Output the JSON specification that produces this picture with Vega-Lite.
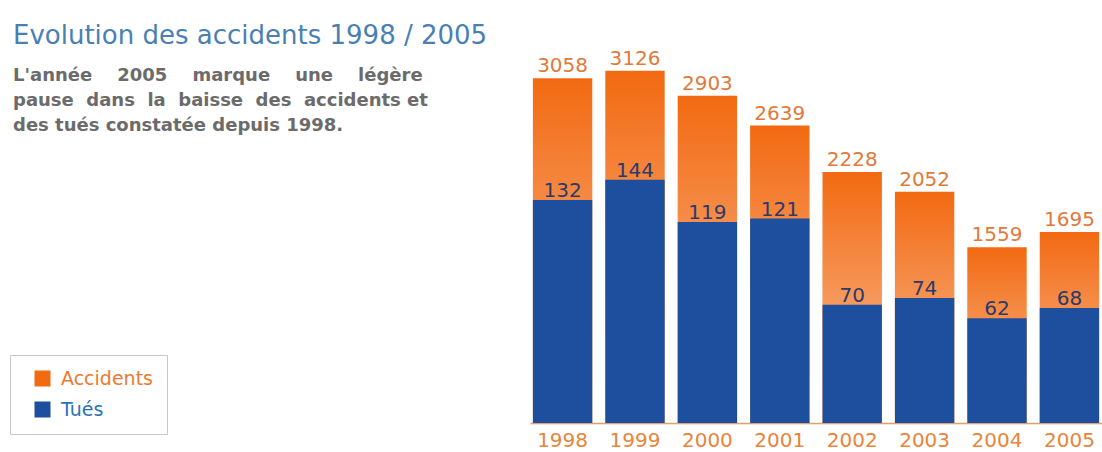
{
  "$schema": "https://vega.github.io/schema/vega-lite/v6.json",
  "width": 572,
  "height": 363,
  "autosize": {"type": "none"},
  "padding": {"left": 530, "top": 60, "right": 0, "bottom": 29},
  "background": "white",
  "config": {"view": {"stroke": null}},
  "title": {
    "text": "Evolution des accidents 1998 / 2005",
    "subtitle": [
      "L'année\u00a0\u00a0\u00a0 2005\u00a0\u00a0\u00a0 marque\u00a0\u00a0\u00a0 une\u00a0\u00a0\u00a0 légère",
      "pause\u00a0 dans\u00a0 la\u00a0 baisse\u00a0 des\u00a0 accidents et",
      "des tués constatée depuis 1998."
    ],
    "anchor": "start",
    "frame": "group",
    "orient": "top",
    "dx": -517,
    "offset": -86,
    "font": "DejaVu Sans",
    "fontSize": 26,
    "fontWeight": "normal",
    "color": "#4a7fb3",
    "subtitleFont": "DejaVu Sans",
    "subtitleFontSize": 18,
    "subtitleFontWeight": "bold",
    "subtitleColor": "#6b6b6b",
    "subtitleLineHeight": 25,
    "subtitlePadding": 18
  },
  "data": {
    "values": [
      {"year": "1998", "accidents": 3058, "tues": 132},
      {"year": "1999", "accidents": 3126, "tues": 144},
      {"year": "2000", "accidents": 2903, "tues": 119},
      {"year": "2001", "accidents": 2639, "tues": 121},
      {"year": "2002", "accidents": 2228, "tues": 70},
      {"year": "2003", "accidents": 2052, "tues": 74},
      {"year": "2004", "accidents": 1559, "tues": 62},
      {"year": "2005", "accidents": 1695, "tues": 68}
    ]
  },
  "encoding": {
    "x": {
      "field": "year",
      "type": "nominal",
      "scale": {"paddingInner": 0.18, "paddingOuter": 0.04},
      "axis": {
        "title": null,
        "labelAngle": 0,
        "ticks": false,
        "domainColor": "#e0a070",
        "domainWidth": 1.5,
        "labelColor": "#e8853a",
        "labelFont": "DejaVu Sans",
        "labelFontSize": 20,
        "labelPadding": 7
      }
    }
  },
  "layer": [
    {
      "encoding": {
        "y": {"field": "accidents", "type": "quantitative", "scale": {"domain": [0, 3221], "nice": false}, "axis": null}
      },
      "layer": [
        {
          "mark": {"type": "bar"},
          "encoding": {
            "color": {
              "datum": "Accidents",
              "type": "nominal",
              "scale": {"domain": ["Accidents", "Tués"], "range": ["#f26a12", "#1d4f9e"]},
              "legend": {
                "title": null,
                "orient": "none",
                "legendX": -520,
                "legendY": 295,
                "padding": 14,
                "symbolOffset": 9,
                "symbolType": "square",
                "symbolSize": 256,
                "symbolStrokeWidth": 0,
                "labelFont": "DejaVu Sans",
                "labelFontSize": 19,
                "labelOffset": 9,
                "rowPadding": 11,
                "strokeColor": "#c8c8c8",
                "fillColor": "white",
                "labelLimit": 300,
                "encode": {
                  "labels": {"update": {"fill": {"signal": "datum.value === 'Accidents' ? '#ec7a30' : '#2a73b8'"}}}
                }
              }
            }
          }
        },
        {
          "mark": {
            "type": "bar",
            "fill": {
              "gradient": "linear",
              "x1": 0, "y1": 0, "x2": 0, "y2": 1,
              "stops": [
                {"offset": 0, "color": "rgba(255,255,255,0)"},
                {"offset": 1, "color": "rgba(255,255,255,0.6)"}
              ]
            }
          },
          "encoding": {}
        },
        {
          "mark": {"type": "text", "baseline": "alphabetic", "dy": -6, "font": "DejaVu Sans", "fontSize": 20, "color": "#e07a3a"},
          "encoding": {"text": {"field": "accidents", "type": "quantitative", "format": "d"}}
        }
      ]
    },
    {
      "encoding": {
        "y": {"field": "tues", "type": "quantitative", "scale": {"domain": [0, 214.8], "nice": false}, "axis": null}
      },
      "layer": [
        {
          "mark": {"type": "bar"},
          "encoding": {"color": {"datum": "Tués", "type": "nominal"}}
        },
        {
          "mark": {"type": "text", "baseline": "alphabetic", "dy": -3, "font": "DejaVu Sans", "fontSize": 20, "color": "#2b3a6b"},
          "encoding": {"text": {"field": "tues", "type": "quantitative", "format": "d"}}
        }
      ]
    }
  ],
  "resolve": {"scale": {"y": "independent"}}
}
